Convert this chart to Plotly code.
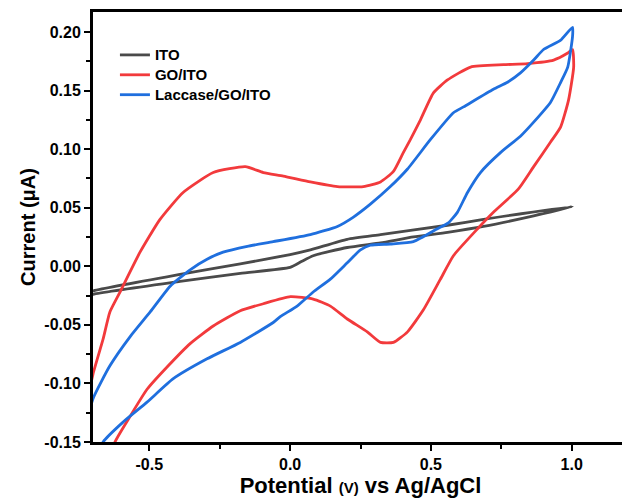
import plotly.graph_objects as go

# ---- data (potential V, current µA) ----
ito_x = [-0.75, -0.70, -0.391, -0.177, 0.000, 0.072, 0.203, 0.321, 0.559, 0.687, 1.003,
         0.865, 0.687, 0.559, 0.438, 0.321, 0.203, 0.082, 0.040, 0.000, -0.177, -0.391, -0.70, -0.75]
ito_y = [-0.025, -0.021, -0.007, 0.002, 0.010, 0.014, 0.023, 0.027, 0.035, 0.040, 0.051,
         0.043, 0.034, 0.029, 0.025, 0.020, 0.016, 0.009, 0.004, -0.001, -0.006, -0.013, -0.024, -0.028]

go_x = [-0.72, -0.700, -0.664, -0.640, -0.604, -0.533, -0.462, -0.380, -0.273, -0.159, -0.095,
        -0.024, 0.072, 0.168, 0.260, 0.321, 0.367, 0.402, 0.427, 0.463, 0.509, 0.559, 0.641,
        0.758, 0.843, 0.936, 0.986, 1.003,
        1.007, 0.989, 0.961, 0.925, 0.865, 0.811, 0.722, 0.666, 0.580, 0.534, 0.474, 0.417,
        0.367, 0.321, 0.274, 0.203, 0.143, 0.082, 0.001, -0.095, -0.177, -0.273, -0.355,
        -0.437, -0.508, -0.568, -0.622, -0.66, -0.76]
go_y = [-0.115, -0.092, -0.062, -0.039, -0.022, 0.012, 0.040, 0.063, 0.080, 0.085, 0.080,
        0.077, 0.072, 0.068, 0.068, 0.072, 0.081, 0.097, 0.108, 0.125, 0.148, 0.159, 0.170,
        0.172, 0.173, 0.176, 0.182, 0.185,
        0.170, 0.142, 0.119, 0.106, 0.085, 0.066, 0.046, 0.032, 0.009, -0.011, -0.037, -0.056,
        -0.065, -0.065, -0.056, -0.045, -0.034, -0.028, -0.026, -0.032, -0.038, -0.051, -0.066,
        -0.086, -0.105, -0.128, -0.150, -0.180, -0.200]

lac_x = [-0.73, -0.700, -0.640, -0.568, -0.497, -0.426, -0.355, -0.295, -0.238, -0.152, -0.060,
         0.072, 0.168, 0.225, 0.285, 0.356, 0.417, 0.498, 0.580, 0.616, 0.722, 0.772, 0.818,
         0.865, 0.900, 0.961, 1.003,
         1.003, 0.986, 0.961, 0.925, 0.865, 0.818, 0.747, 0.676, 0.630, 0.594, 0.562, 0.523,
         0.438, 0.356, 0.285, 0.250, 0.203, 0.143, 0.082, 0.025, -0.035, -0.060, -0.177,
         -0.295, -0.415, -0.508, -0.593, -0.664, -0.72]
lac_y = [-0.140, -0.113, -0.085, -0.060, -0.039, -0.017, -0.003, 0.006, 0.012, 0.017, 0.021,
         0.027, 0.034, 0.042, 0.053, 0.068, 0.083, 0.108, 0.131, 0.136, 0.151, 0.157, 0.165,
         0.176, 0.185, 0.193, 0.204,
         0.196, 0.170, 0.157, 0.140, 0.123, 0.111, 0.097, 0.080, 0.063, 0.046, 0.037, 0.032,
         0.021, 0.019, 0.018, 0.014, 0.003, -0.011, -0.022, -0.034, -0.043, -0.048, -0.065,
         -0.079, -0.096, -0.116, -0.133, -0.150, -0.185]

series_names = ["ITO", "GO/ITO", "Laccase/GO/ITO"]

x_ticks = [-0.5, 0.0, 0.5, 1.0]
x_tick_text = ["-0.5", "0.0", "0.5", "1.0"]
y_ticks = [-0.15, -0.10, -0.05, 0.00, 0.05, 0.10, 0.15, 0.20]
y_tick_text = ["-0.15", "-0.10", "-0.05", "0.00", "0.05", "0.10", "0.15", "0.20"]

FONT = "Liberation Sans, Arial, sans-serif"


def legend_label(s):
    return "<span style='font-size:15px'><b>" + s + "</b></span>"


fig = go.Figure()
fig.add_trace(go.Scatter(x=ito_x, y=ito_y, mode="lines", name=legend_label(series_names[0]),
                         line=dict(color="#4a4a4a", width=2.8, shape="spline", smoothing=0.5)))
fig.add_trace(go.Scatter(x=go_x, y=go_y, mode="lines", name=legend_label(series_names[1]),
                         line=dict(color="#f23a3c", width=2.8, shape="spline", smoothing=0.5)))
fig.add_trace(go.Scatter(x=lac_x, y=lac_y, mode="lines", name=legend_label(series_names[2]),
                         line=dict(color="#1f6fde", width=2.8, shape="spline", smoothing=0.5)))

# page body has an 8px margin, so figure is sized/offset to land the plot area at 93..628 x 12..442
fig.update_layout(
    width=622, height=494,
    margin=dict(l=85, r=2, t=4, b=60, autoexpand=False),
    paper_bgcolor="white", plot_bgcolor="white",
    font=dict(family=FONT, color="black"),
    showlegend=True,
    legend=dict(x=0.041, y=0.935, xanchor="left", yanchor="top",
                bgcolor="rgba(0,0,0,0)", borderwidth=0,
                font=dict(size=13, family=FONT, color="black"),
                tracegroupgap=0, itemwidth=30),
)
fig.update_xaxes(
    range=[-0.7, 1.2], showgrid=False, zeroline=False, automargin=False,
    showline=True, linewidth=3, linecolor="black", mirror=True,
    ticks="outside", ticklen=6, tickwidth=2, tickcolor="black",
    tickvals=x_ticks, ticktext=x_tick_text,
    tickfont=dict(size=16, family=FONT, color="black", weight="bold"),
    minor=dict(tickvals=[-0.25, 0.25, 0.75], ticks="outside", ticklen=4, tickwidth=2, tickcolor="black"),
    title=dict(text="<b>Potential <span style='font-size:15px'>(V)</span> vs Ag/AgCl</b>",
               font=dict(size=22, family=FONT, color="black"), standoff=4),
)
fig.update_yaxes(
    range=[-0.15, 0.217], showgrid=False, zeroline=False, automargin=False,
    showline=True, linewidth=3, linecolor="black", mirror=False,
    ticks="outside", ticklen=6, tickwidth=2, tickcolor="black",
    tickvals=y_ticks, ticktext=y_tick_text,
    tickfont=dict(size=16, family=FONT, color="black", weight="bold"),
    minor=dict(tickvals=[-0.125, -0.075, -0.025, 0.025, 0.075, 0.125, 0.175],
               ticks="outside", ticklen=4, tickwidth=2, tickcolor="black"),
    title=dict(text="<b>Current (μA)</b>", font=dict(size=20, family=FONT, color="black"), standoff=4),
)
fig.add_shape(type="line", xref="paper", yref="paper", x0=1, x1=1, y0=0, y1=1,
              line=dict(color="black", width=1.5))

fig.write_html("out.html")
